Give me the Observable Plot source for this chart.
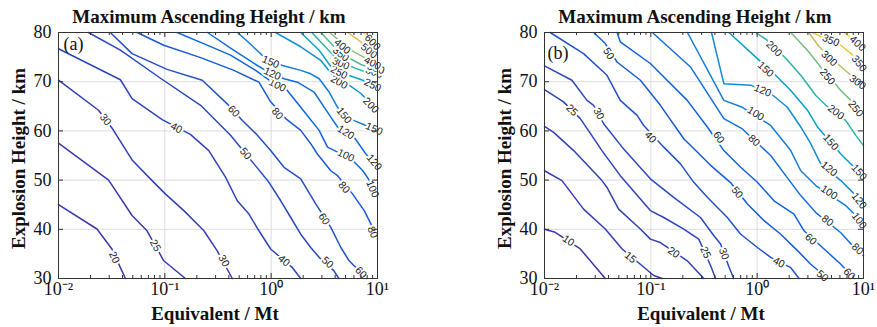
<!DOCTYPE html>
<html><head><meta charset="utf-8">
<script src="https://cdn.jsdelivr.net/npm/d3@7"></script>
<script src="https://cdn.jsdelivr.net/npm/@observablehq/plot@0.6"></script>
<style>
body{margin:0;background:#fff}
#wrap{position:relative;width:877px;height:327px;overflow:hidden}
.panel{position:absolute;top:0}
</style>
</head><body>
<div id="wrap"><div class="panel" id="pa" style="left:0px"></div><div class="panel" id="pb" style="left:440px"></div></div>
<script>
// ---- data: contour polylines [Equivalent (Mt), Explosion height (km)] ----
// Panel (a)
const A20 = [[0.01,45.0],[0.023,40.06],[0.0318,36.0],[0.0382,32.2],[0.0426,30]];
const A25 = [[0.01,57.5],[0.0296,50.0],[0.0492,42.8],[0.068,39.7],[0.0977,33.6],[0.156,30]];
const A30 = [[0.01,70.3],[0.0238,64.2],[0.0318,60.6],[0.0492,54.1],[0.0731,50.25],[0.101,47.2],[0.151,43.8],[0.233,39.7],[0.311,35.6],[0.431,30]];
const A40 = [[0.01,76.7],[0.0382,70.4],[0.0492,66.55],[0.0944,62.3],[0.174,59.3],[0.259,56.0],[0.372,50.6],[0.48,45.8],[0.618,43.1],[0.767,39.7],[0.989,36.0],[1.585,32.2],[1.897,30]];
const A50 = [[0.0191,80],[0.0382,76.4],[0.091,70.7],[0.217,65.2],[0.415,59.1],[0.689,53.3],[0.953,49.55],[1.23,45.8],[1.528,42.4],[1.897,39.0],[2.355,36.3],[2.825,34.3],[3.88,31.6],[4.33,30]];
const A60 = [[0.0307,80],[0.0492,75.7],[0.105,72.5],[0.225,70.3],[0.386,65.5],[0.536,62.1],[0.714,59.5],[0.989,56.0],[1.321,52.6],[1.897,50.25],[2.625,45.15],[3.64,40.4],[4.52,36.3],[5.41,33.6],[7.94,30]];
const A80 = [[0.0548,80],[0.0977,77.4],[0.217,74.9],[0.446,72.3],[0.767,69.9],[0.989,65.9],[1.37,62.5],[1.897,60.1],[2.355,57.4],[2.72,55.3],[3.64,51.9],[4.21,50.9],[5.82,47.2],[7.5,43.8],[8.67,41.1],[10,38.0]];
const A100 = [[0.1306,80],[0.217,78.0],[0.415,75.4],[0.714,72.3],[0.989,70.1],[1.37,68.6],[1.897,64.8],[2.825,60.1],[3.388,56.7],[4.21,55.7],[5.61,54.4],[7.28,51.9],[8.67,49.5],[10,46.4]];
const A120 = [[0.252,80],[0.415,76.8],[0.714,73.5],[0.887,72.3],[1.321,70.6],[1.766,69.9],[2.53,67.9],[3.64,62.8],[4.21,60.8],[6.03,58.7],[7.78,55.3],[10,52.55]];
const A150 = [[0.483,80],[0.641,77.6],[0.887,74.7],[1.276,73.3],[1.897,72.3],[2.355,71.6],[2.825,70.6],[3.508,67.9],[4.21,64.8],[4.85,63.15],[6.03,62.1],[7.78,61.1],[10,60.1]];
const A200 = [[1.10,80],[1.897,77.1],[2.926,74.35],[3.776,71.3],[5.41,69.3],[6.98,67.6],[8.07,66.2],[10,64.2]];
const A250 = [[1.897,80],[2.825,76.4],[3.64,73.1],[5.035,71.5],[7.28,70.3],[10,68.85]];
const A300 = [[2.41,80],[3.33,76.8],[4.33,74.15],[6.25,72.7],[10,71.1]];
const A350 = [[2.926,80],[3.88,77.2],[5.035,75.2],[6.98,73.5],[10,72.3]];
const A400 = [[3.56,80],[4.33,78.4],[5.61,76.4],[7.78,74.75],[10,73.5]];
const A500 = [[5.26,80],[6.68,78.4],[8.3,76.8],[10,75.4]];
const A600 = [[7.28,80],[8.67,78.8],[10,77.4]];
// contour labels [level, Mt, km]
const labelsA = [[20,0.0335,34.3],[25,0.0815,36.7],[30,0.0276,62.3],[30,0.359,33.6],[40,0.1285,60.6],[40,1.32,33.6],
  [50,0.575,55.4],[50,3.388,33.25],[60,0.444,64.0],[60,3.148,42.1],[60,6.98,31.2],
  [80,1.143,63.5],[80,4.85,48.5],[80,8.99,39.4],[100,1.143,69.3],[100,5.035,55.0],[100,8.99,48.2],
  [120,1.026,71.6],[120,5.035,59.7],[120,9.31,53.6],[150,0.989,74.0],[150,4.85,63.15],[150,9.31,60.4],
  [200,4.355,69.9],[200,8.67,65.2],[250,4.355,71.9],[250,8.99,69.3],[300,4.52,73.7],[300,9.31,71.9],
  [350,4.52,75.6],[350,9.66,72.7],[400,4.68,77.15],[400,8.99,73.75],[500,8.32,76.25],[600,8.99,78.0]];

// Panel (b)
const B10 = [[0.01,40.0],[0.0126,39.4],[0.0217,36.0],[0.0373,30]];
const B15 = [[0.01,51.9],[0.0146,49.9],[0.0233,44.1],[0.0373,40.06],[0.0537,36.0],[0.0828,32.6],[0.1064,30.6],[0.128,30]];
const B20 = [[0.01,60.9],[0.0122,59.7],[0.0188,56.0],[0.0347,49.9],[0.0387,48.5],[0.0498,44.1],[0.0797,40.06],[0.099,38.0],[0.123,37.3],[0.22,33.6],[0.315,30]];
const B25 = [[0.01,68.4],[0.0151,65.9],[0.0217,62.5],[0.027,59.5],[0.0347,56.0],[0.0516,50.9],[0.099,43.8],[0.1325,42.4],[0.204,40.05],[0.2825,38.0],[0.365,32.6],[0.406,30]];
const B30 = [[0.01,73.2],[0.0181,70.3],[0.0251,66.2],[0.029,65.2],[0.036,61.45],[0.0537,56.7],[0.099,50.25],[0.164,46.5],[0.293,42.4],[0.392,38.7],[0.453,37.0],[0.538,32.6],[0.601,30]];
const B40 = [[0.0113,80],[0.0233,75.7],[0.0387,71.3],[0.0516,66.2],[0.0743,63.15],[0.0857,61.1],[0.1325,56.7],[0.19,53.3],[0.2535,49.55],[0.34,46.5],[0.524,42.4],[0.70,39.0],[1.005,36.3],[1.34,34.3],[2.07,32.2],[2.48,30]];
const B50 = [[0.029,80],[0.0373,77.75],[0.0481,74.0],[0.0798,70.3],[0.123,65.2],[0.204,58.4],[0.365,53.0],[0.562,49.5],[0.81,45.15],[1.16,41.75],[1.667,39.0],[2.57,35.0],[3.19,32.9],[4.61,30]];
const B60 = [[0.0481,80],[0.0516,78.1],[0.099,73.7],[0.22,66.2],[0.34,60.8],[0.486,56.0],[0.70,52.6],[1.005,49.55],[1.44,45.8],[2.22,43.1],[2.76,39.7],[4.26,36.0],[6.12,32.9],[8.11,30]];
const B80 = [[0.1035,80],[0.236,73.0],[0.486,62.5],[0.726,60.4],[1.34,55.0],[1.857,50.9],[2.57,46.85],[3.56,43.4],[6.12,39.3],[7.94,36.6],[10,34.6]];
const B100 = [[0.221,80],[0.486,66.2],[0.726,64.8],[1.34,61.1],[2.07,56.0],[2.57,51.9],[3.56,48.9],[6.82,44.8],[8.47,42.8],[10,40.7]];
const B120 = [[0.372,80],[0.486,69.6],[0.869,69.3],[1.34,67.6],[1.926,64.8],[2.57,60.8],[3.19,57.4],[3.96,53.3],[6.12,49.9],[8.17,47.2],[10,44.8]];
const B150 = [[0.542,80],[1.005,74.7],[1.44,71.6],[2.07,68.2],[2.97,64.2],[3.69,60.8],[6.12,55.3],[8.17,52.6],[10,50.5]];
const B200 = [[0.968,80],[1.247,78.4],[1.857,74.75],[2.57,71.3],[3.56,67.2],[4.43,65.2],[6.82,62.1],[8.47,59.1],[10,57.0]];
const B250 = [[2.07,80],[2.97,76.4],[3.96,73.0],[6.12,68.2],[7.6,66.2],[10,62.8]];
const B300 = [[3.055,80],[3.8,77.2],[5.5,73.95],[7.6,71.3],[10,69.5]];
const B350 = [[3.33,80],[4.24,78.8],[6.12,77.4],[7.94,75.4],[10,72.7]];
const B400 = [[6.53,80],[7.94,78.8],[10,76.8]];
const labelsB = [[10,0.0168,37.7],[15,0.0643,34.3],[20,0.164,35.3],[25,0.0181,64.2],[25,0.327,35.3],
  [30,0.0323,63.5],[30,0.486,35.0],[40,0.099,58.7],[40,1.60,33.25],[50,0.0401,75.7],[50,0.65,47.5],[50,4.11,30.5],
  [60,0.436,58.7],[60,3.19,38.0],[60,7.33,30.9],[80,0.933,58.05],[80,4.59,41.75],[80,8.79,36.0],
  [100,0.968,63.5],[100,4.75,47.5],[100,9.1,41.75],[120,1.127,68.2],[120,4.75,52.3],[120,9.1,45.8],
  [150,1.202,72.5],[150,4.93,57.7],[150,9.1,51.6],[200,1.44,76.7],[200,5.5,63.8],[250,4.59,71.0],[250,8.47,64.5],
  [300,4.75,74.7],[300,8.79,69.9],[350,4.93,78.4],[350,9.1,73.7],[400,8.79,77.75]];

const contoursA = [[20,A20],[25,A25],[30,A30],[40,A40],[50,A50],[60,A60],[80,A80],[100,A100],[120,A120],[150,A150],[200,A200],[250,A250],[300,A300],[350,A350],[400,A400],[500,A500],[600,A600]];
const contoursB = [[10,B10],[15,B15],[20,B20],[25,B25],[30,B30],[40,B40],[50,B50],[60,B60],[80,B80],[100,B100],[120,B120],[150,B150],[200,B200],[250,B250],[300,B300],[350,B350],[400,B400]];

const xTicks = [0.01,0.1,1,10];
const xTickLabels = ["10\u207B\u00B2","10\u207B\u00B9","10\u2070","10\u00B9"];
const yTicks = [30,40,50,60,70,80];
const climA = [15,640];
const climB = [8,420];

// parula colormap anchors
const parulaStops = [0,0.125,0.25,0.375,0.5,0.625,0.75,0.875,1];
const parulaColors = ["#3d35a8","#1062e0","#1485d4","#06a7c6","#38b99e","#92bf73","#d9ba56","#fcce2e","#f9fb0e"];
const parula = d3.scaleLinear().domain(parulaStops).range(parulaColors).clamp(true);

const serif = "'Liberation Serif','Times New Roman',serif";
const sans = "'Liberation Sans',Arial,sans-serif";

function panel(el, {contours, labels, clim, ml, mr, width, tag, tagDx, tagDy}) {
  const height = 327, mt = 32, mb = 49;
  const xs = d3.scaleLog().domain([0.01,10]).range([ml, width - mr]);
  const ys = d3.scaleLinear().domain([30,80]).range([height - mb, mt]);
  const color = lev => parula((lev - clim[0]) / (clim[1] - clim[0]));
  const rows = contours.flatMap(([lev, pts], i) => pts.map(([x, y]) => ({id: i, lev, x, y})));
  const labRows = labels.map(([lev, x, y]) => {
    const px = xs(x), py = ys(y);
    let best = null, bd = Infinity;
    for (const [l, pts] of contours) {
      if (l !== lev) continue;
      for (let k = 0; k < pts.length - 1; k++) {
        const ax = xs(pts[k][0]), ay = ys(pts[k][1]), bx = xs(pts[k+1][0]), by = ys(pts[k+1][1]);
        const dx = bx - ax, dy = by - ay, L = dx*dx + dy*dy || 1;
        let t = ((px-ax)*dx + (py-ay)*dy) / L; t = Math.max(0, Math.min(1, t));
        const d = Math.hypot(ax + t*dx - px, ay + t*dy - py);
        if (d < bd) { bd = d; best = [dx, dy]; }
      }
    }
    let ang = best ? Math.atan2(best[1], best[0]) * 180 / Math.PI : 0;
    if (ang > 90) ang -= 180; if (ang < -90) ang += 180;
    return {lev, x, y, ang};
  });
  const minor = [];
  for (let e = -2; e < 1; e++) for (let m = 2; m <= 9; m++) minor.push(m * 10 ** e);
  const kpx = (height - mt - mb) / 50; // px per km
  const dpx = (width - ml - mr) / 3;   // px per decade
  const tkY = n => n / kpx, tkX = n => 10 ** (n / dpx);
  const fig = Plot.plot({
    width, height, marginLeft: ml, marginRight: mr, marginTop: mt, marginBottom: mb,
    x: {type: "log", domain: [0.01, 10], axis: null},
    y: {domain: [30, 80], axis: null},
    style: {fontFamily: serif, background: "white", overflow: "visible"},
    marks: [
      Plot.ruleX(xTicks, {stroke: "#dcdcdc", strokeWidth: 1}),
      Plot.ruleY(yTicks, {stroke: "#dcdcdc", strokeWidth: 1}),
      Plot.line(rows, {x: "x", y: "y", z: "id", stroke: d => color(d.lev), strokeWidth: 1.5, curve: "linear"}),
      Plot.text(labRows, {x: "x", y: "y", text: d => String(d.lev), rotate: "ang", fontFamily: sans, fontSize: 10.5,
        fill: "#222", stroke: "white", strokeWidth: 4, paintOrder: "stroke"}),
      Plot.ruleX(minor, {x: d => d, y1: 30, y2: 30 + tkY(3), stroke: "#333"}),
      Plot.ruleX(minor, {x: d => d, y1: 80, y2: 80 - tkY(3), stroke: "#333"}),
      Plot.ruleX(xTicks, {x: d => d, y1: 30, y2: 30 + tkY(5), stroke: "#333"}),
      Plot.ruleX(xTicks, {x: d => d, y1: 80, y2: 80 - tkY(5), stroke: "#333"}),
      Plot.ruleY(yTicks, {y: d => d, x1: 0.01, x2: 0.01 * tkX(5), stroke: "#333"}),
      Plot.ruleY(yTicks, {y: d => d, x1: 10, x2: 10 / tkX(5), stroke: "#333"}),
      Plot.frame({stroke: "#333", strokeWidth: 1}),
      Plot.text(xTicks, {x: d => d, frameAnchor: "bottom", lineAnchor: "top", dy: 4,
        text: d => xTickLabels[xTicks.indexOf(d)], fontSize: 18, fontFamily: serif, fill: "#111"}),
      Plot.text(yTicks, {y: d => d, frameAnchor: "left", textAnchor: "end", dx: -7,
        text: d => String(d), fontSize: 18, fontFamily: serif, fill: "#111"}),
      Plot.text(["Maximum Ascending Height / km"], {frameAnchor: "top", lineAnchor: "bottom", dy: -10, dx: -9,
        fontSize: 19, fontWeight: "bold", fontFamily: serif, fill: "#111"}),
      Plot.text(["Equivalent / Mt"], {frameAnchor: "bottom", lineAnchor: "bottom", dy: 41, dx: -3,
        fontSize: 19, fontWeight: "bold", fontFamily: serif, fill: "#111"}),
      Plot.text(["Explosion Height / km"], {frameAnchor: "left", textAnchor: "middle", rotate: -90, dx: -40, dy: 3,
        fontSize: 19, fontWeight: "bold", fontFamily: serif, fill: "#111"}),
      Plot.text([tag], {frameAnchor: "top-left", lineAnchor: "top", textAnchor: "start", dx: tagDx, dy: tagDy,
        fontSize: 18, fontFamily: serif, fill: "#111"})
    ]
  });
  document.getElementById(el).appendChild(fig);
}

panel("pa", {contours: contoursA, labels: labelsA, clim: climA, ml: 58, mr: 63, width: 440, tag: "(a)", tagDx: 5, tagDy: 5});
panel("pb", {contours: contoursB, labels: labelsB, clim: climB, ml: 104, mr: 14, width: 437, tag: "(b)", tagDx: 3, tagDy: 14});
</script>
</body></html>
